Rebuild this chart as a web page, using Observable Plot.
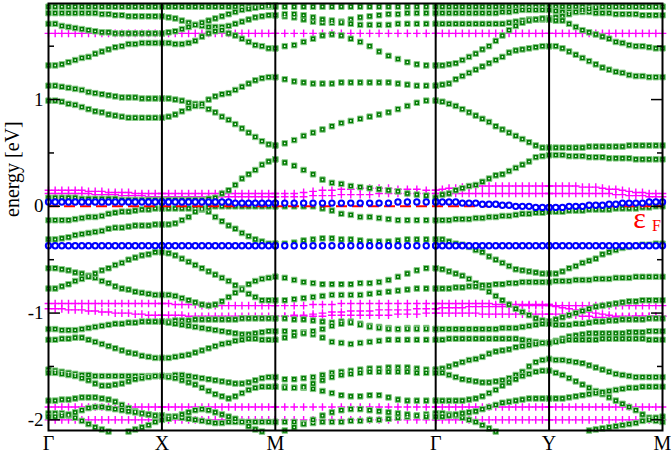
<!DOCTYPE html>
<html><head><meta charset="utf-8">
<script src="https://cdn.jsdelivr.net/npm/d3@7"></script>
<script src="https://cdn.jsdelivr.net/npm/@observablehq/plot@0.6"></script>
<style>html,body{margin:0;padding:0;background:#fff;}svg{display:block;}</style>
</head><body><div id="chart"></div>
<script>
// k-path: high-symmetry labels and their path positions
const kLabels = ["Γ","X","M","Γ","Y","M"];
const kNodes = [0, 1, 2, 3.414, 4.414, 5.414];
const yMajorTicks = [-2, -1, 0, 1];
const yMinorTicks = [-1.5, -0.5, 0.5, 1.5];
const fermiLevel = 0;
const energyDomain = [-2.1, 1.9];

// ---- green (square) bands, 18 k-points per segment, eV ----
const greenGX = [
[1.87,1.87,1.87,1.87,1.87,1.87,1.87,1.87,1.87,1.87,1.87,1.87,1.87,1.87,1.87,1.87,1.87,1.87],
[1.81,1.81,1.81,1.81,1.81,1.81,1.81,1.81,1.80,1.80,1.79,1.79,1.78,1.78,1.78,1.78,1.78,1.78],
[1.71,1.71,1.69,1.68,1.67,1.66,1.65,1.64,1.63,1.63,1.62,1.62,1.62,1.62,1.62,1.62,1.62,1.62],
[1.32,1.32,1.33,1.35,1.37,1.39,1.40,1.43,1.45,1.47,1.49,1.50,1.52,1.52,1.53,1.53,1.53,1.53],
[1.13,1.13,1.12,1.11,1.10,1.09,1.07,1.06,1.05,1.04,1.03,1.02,1.02,1.02,1.01,1.01,1.01,1.01],
[0.99,0.99,0.98,0.96,0.95,0.93,0.91,0.89,0.88,0.86,0.85,0.84,0.83,0.83,0.83,0.83,0.83,0.83],
[0.08,0.08,0.08,0.08,0.08,0.07,0.07,0.07,0.07,0.07,0.07,0.06,0.06,0.06,0.06,0.06,0.06,0.06],
[-0.13,-0.13,-0.13,-0.13,-0.12,-0.11,-0.10,-0.10,-0.09,-0.07,-0.06,-0.05,-0.05,-0.04,-0.03,-0.03,-0.02,-0.02],
[-0.31,-0.31,-0.30,-0.29,-0.27,-0.26,-0.25,-0.24,-0.23,-0.21,-0.20,-0.20,-0.19,-0.18,-0.18,-0.18,-0.17,-0.17],
[-0.58,-0.58,-0.59,-0.60,-0.62,-0.63,-0.65,-0.67,-0.70,-0.72,-0.75,-0.77,-0.78,-0.80,-0.81,-0.82,-0.83,-0.83],
[-0.77,-0.77,-0.75,-0.73,-0.70,-0.68,-0.66,-0.63,-0.60,-0.58,-0.55,-0.53,-0.50,-0.48,-0.46,-0.45,-0.43,-0.43],
[-1.15,-1.15,-1.16,-1.16,-1.16,-1.15,-1.14,-1.13,-1.12,-1.11,-1.10,-1.10,-1.09,-1.09,-1.08,-1.08,-1.08,-1.08],
[-1.25,-1.25,-1.24,-1.24,-1.23,-1.23,-1.25,-1.27,-1.29,-1.31,-1.33,-1.35,-1.37,-1.38,-1.40,-1.41,-1.42,-1.42],
[-1.53,-1.54,-1.55,-1.56,-1.57,-1.58,-1.58,-1.59,-1.59,-1.59,-1.59,-1.59,-1.59,-1.59,-1.59,-1.59,-1.59,-1.59],
[-1.56,-1.56,-1.57,-1.58,-1.59,-1.61,-1.63,-1.66,-1.68,-1.68,-1.67,-1.66,-1.64,-1.62,-1.61,-1.60,-1.59,-1.59],
[-1.82,-1.82,-1.81,-1.81,-1.80,-1.79,-1.79,-1.79,-1.80,-1.81,-1.83,-1.86,-1.89,-1.92,-1.94,-1.95,-1.96,-1.96],
[-1.94,-1.94,-1.94,-1.96,-1.98,-2.01,-2.04,-2.07,-2.09,-2.11,-2.12,-2.12,-2.11,-2.09,-2.07,-2.05,-2.02,-2.00],
[-1.97,-1.97,-1.96,-1.95,-1.93,-1.91,-1.89,-1.88,-1.88,-1.89,-1.90,-1.91,-1.92,-1.93,-1.94,-1.95,-1.96,-1.96]
];
const greenXM = [
[1.87,1.87,1.87,1.87,1.87,1.87,1.87,1.87,1.87,1.87,1.87,1.87,1.87,1.87,1.87,1.87,1.87,1.87],
[1.78,1.77,1.76,1.74,1.72,1.70,1.69,1.68,1.68,1.68,1.69,1.71,1.73,1.75,1.77,1.78,1.79,1.79],
[1.62,1.63,1.64,1.66,1.68,1.70,1.72,1.74,1.76,1.78,1.80,1.82,1.84,1.85,1.86,1.87,1.88,1.88],
[1.53,1.53,1.52,1.52,1.53,1.55,1.59,1.62,1.64,1.65,1.62,1.60,1.57,1.54,1.51,1.50,1.48,1.48],
[1.01,1.01,1.00,0.99,0.97,0.96,0.94,0.91,0.88,0.84,0.81,0.77,0.73,0.69,0.65,0.61,0.58,0.57],
[0.83,0.84,0.86,0.89,0.92,0.94,0.96,1.00,1.03,1.05,1.06,1.09,1.12,1.15,1.18,1.20,1.21,1.21],
[0.06,0.06,0.06,0.06,0.06,0.06,0.06,0.07,0.08,0.12,0.15,0.20,0.26,0.30,0.34,0.39,0.42,0.44],
[-0.02,-0.02,-0.02,-0.02,-0.02,-0.02,-0.03,-0.05,-0.10,-0.14,-0.18,-0.21,-0.25,-0.28,-0.31,-0.33,-0.35,-0.35],
[-0.17,-0.17,-0.16,-0.13,-0.10,-0.05,-0.02,-0.01,0.00,0.00,0.00,0.00,0.00,0.00,0.00,0.00,0.00,0.00],
[-0.83,-0.83,-0.84,-0.86,-0.88,-0.90,-0.92,-0.93,-0.92,-0.89,-0.85,-0.81,-0.77,-0.73,-0.70,-0.68,-0.67,-0.66],
[-0.43,-0.44,-0.46,-0.49,-0.52,-0.55,-0.58,-0.61,-0.64,-0.67,-0.70,-0.74,-0.78,-0.82,-0.85,-0.88,-0.88,-0.88],
[-1.08,-1.08,-1.07,-1.07,-1.07,-1.06,-1.06,-1.06,-1.06,-1.06,-1.06,-1.06,-1.05,-1.05,-1.05,-1.05,-1.05,-1.05],
[-1.08,-1.09,-1.10,-1.11,-1.12,-1.13,-1.14,-1.15,-1.16,-1.17,-1.18,-1.19,-1.20,-1.20,-1.19,-1.18,-1.17,-1.17],
[-1.42,-1.42,-1.41,-1.40,-1.39,-1.37,-1.35,-1.33,-1.31,-1.29,-1.28,-1.26,-1.25,-1.24,-1.24,-1.25,-1.25,-1.25],
[-1.59,-1.59,-1.58,-1.58,-1.59,-1.60,-1.61,-1.62,-1.63,-1.64,-1.65,-1.66,-1.66,-1.65,-1.63,-1.61,-1.60,-1.60],
[-1.59,-1.60,-1.61,-1.63,-1.65,-1.67,-1.70,-1.73,-1.76,-1.78,-1.80,-1.78,-1.75,-1.72,-1.70,-1.69,-1.69,-1.69],
[-1.96,-1.97,-1.97,-1.98,-1.99,-2.00,-2.01,-2.02,-2.03,-2.03,-2.02,-2.02,-2.02,-2.02,-2.02,-2.02,-2.02,-2.02],
[-2.00,-1.99,-1.97,-1.95,-1.93,-1.91,-1.90,-1.91,-1.93,-1.95,-1.97,-1.99,-2.02,-2.06,-2.09,-2.11,-2.12,-2.12]
];
const greenMG = [
[1.87,1.87,1.87,1.87,1.87,1.87,1.87,1.87,1.87,1.87,1.87,1.87,1.87,1.87,1.87,1.87,1.87,1.87],
[1.79,1.78,1.77,1.75,1.73,1.72,1.72,1.73,1.75,1.77,1.78,1.79,1.80,1.80,1.81,1.81,1.81,1.81],
[1.79,1.80,1.80,1.79,1.77,1.75,1.74,1.72,1.71,1.70,1.70,1.70,1.70,1.71,1.71,1.71,1.71,1.71],
[1.48,1.50,1.51,1.54,1.57,1.60,1.61,1.60,1.57,1.54,1.50,1.45,1.41,1.38,1.35,1.33,1.32,1.32],
[1.21,1.19,1.17,1.16,1.15,1.15,1.15,1.16,1.16,1.16,1.16,1.16,1.16,1.15,1.14,1.13,1.13,1.13],
[0.57,0.59,0.62,0.66,0.69,0.72,0.75,0.78,0.80,0.82,0.84,0.86,0.88,0.91,0.94,0.97,0.99,0.99],
[0.44,0.41,0.38,0.34,0.30,0.25,0.22,0.21,0.19,0.18,0.17,0.16,0.15,0.14,0.12,0.11,0.10,0.08],
[0.00,0.00,0.00,0.00,0.00,-0.02,-0.04,-0.07,-0.08,-0.10,-0.10,-0.11,-0.12,-0.13,-0.13,-0.13,-0.13,-0.13],
[-0.35,-0.35,-0.34,-0.32,-0.31,-0.30,-0.30,-0.31,-0.31,-0.32,-0.33,-0.33,-0.33,-0.32,-0.31,-0.31,-0.31,-0.31],
[-0.66,-0.67,-0.69,-0.71,-0.72,-0.73,-0.73,-0.73,-0.73,-0.72,-0.72,-0.71,-0.69,-0.66,-0.63,-0.60,-0.58,-0.58],
[-0.88,-0.88,-0.87,-0.86,-0.85,-0.84,-0.83,-0.83,-0.83,-0.83,-0.82,-0.81,-0.80,-0.79,-0.78,-0.77,-0.77,-0.77],
[-1.05,-1.05,-1.06,-1.06,-1.07,-1.08,-1.09,-1.08,-1.08,-1.10,-1.12,-1.13,-1.14,-1.15,-1.14,-1.14,-1.14,-1.15],
[-1.17,-1.17,-1.18,-1.18,-1.20,-1.23,-1.27,-1.28,-1.29,-1.28,-1.27,-1.26,-1.25,-1.25,-1.25,-1.25,-1.25,-1.25],
[-1.25,-1.23,-1.21,-1.19,-1.17,-1.15,-1.12,-1.10,-1.09,-1.11,-1.13,-1.14,-1.15,-1.15,-1.15,-1.15,-1.15,-1.15],
[-1.60,-1.62,-1.62,-1.61,-1.60,-1.58,-1.56,-1.55,-1.54,-1.53,-1.52,-1.52,-1.51,-1.51,-1.51,-1.52,-1.53,-1.53],
[-1.69,-1.69,-1.70,-1.70,-1.71,-1.73,-1.75,-1.77,-1.78,-1.78,-1.77,-1.77,-1.79,-1.81,-1.82,-1.82,-1.82,-1.82],
[-1.69,-1.70,-1.70,-1.69,-1.66,-1.63,-1.60,-1.58,-1.57,-1.56,-1.55,-1.55,-1.55,-1.55,-1.55,-1.56,-1.56,-1.56],
[-2.02,-2.02,-2.02,-2.03,-2.03,-2.02,-2.02,-2.02,-2.01,-2.01,-2.00,-2.00,-1.99,-1.98,-1.97,-1.96,-1.95,-1.94],
[-2.12,-2.10,-2.07,-2.04,-2.00,-1.96,-1.93,-1.91,-1.90,-1.90,-1.91,-1.92,-1.93,-1.94,-1.95,-1.96,-1.97,-1.97]
];
const greenGY = [
[1.87,1.87,1.87,1.87,1.87,1.87,1.87,1.87,1.87,1.87,1.87,1.87,1.87,1.87,1.87,1.87,1.87,1.87],
[1.81,1.81,1.81,1.81,1.81,1.81,1.81,1.81,1.81,1.81,1.82,1.82,1.83,1.84,1.84,1.84,1.84,1.84],
[1.71,1.71,1.71,1.71,1.71,1.71,1.71,1.71,1.71,1.71,1.71,1.72,1.73,1.74,1.75,1.75,1.75,1.75],
[1.32,1.32,1.33,1.34,1.37,1.40,1.43,1.47,1.50,1.55,1.60,1.65,1.69,1.72,1.74,1.75,1.76,1.76],
[1.13,1.14,1.15,1.19,1.22,1.25,1.28,1.31,1.34,1.37,1.40,1.44,1.46,1.47,1.48,1.49,1.50,1.50],
[0.99,0.98,0.96,0.94,0.91,0.88,0.85,0.82,0.79,0.75,0.72,0.69,0.66,0.63,0.60,0.57,0.55,0.55],
[0.08,0.11,0.12,0.15,0.17,0.19,0.20,0.23,0.26,0.29,0.30,0.33,0.36,0.39,0.42,0.46,0.47,0.48],
[-0.13,-0.13,-0.13,-0.12,-0.12,-0.12,-0.11,-0.11,-0.10,-0.10,-0.09,-0.09,-0.08,-0.07,-0.07,-0.06,-0.06,-0.05],
[-0.31,-0.31,-0.33,-0.35,-0.36,-0.38,-0.41,-0.43,-0.47,-0.50,-0.53,-0.56,-0.59,-0.60,-0.61,-0.62,-0.63,-0.63],
[-0.58,-0.59,-0.61,-0.63,-0.65,-0.68,-0.72,-0.76,-0.80,-0.84,-0.88,-0.92,-0.96,-0.99,-1.02,-1.05,-1.07,-1.08],
[-0.77,-0.77,-0.77,-0.76,-0.76,-0.75,-0.75,-0.74,-0.74,-0.73,-0.73,-0.72,-0.72,-0.71,-0.71,-0.71,-0.71,-0.71],
[-1.15,-1.15,-1.15,-1.15,-1.15,-1.15,-1.15,-1.15,-1.15,-1.15,-1.14,-1.14,-1.14,-1.13,-1.12,-1.11,-1.10,-1.10],
[-1.25,-1.25,-1.24,-1.24,-1.24,-1.24,-1.24,-1.24,-1.24,-1.24,-1.24,-1.24,-1.24,-1.25,-1.26,-1.27,-1.28,-1.28],
[-1.53,-1.52,-1.50,-1.48,-1.46,-1.44,-1.43,-1.41,-1.38,-1.36,-1.35,-1.34,-1.32,-1.31,-1.30,-1.29,-1.28,-1.28],
[-1.56,-1.56,-1.58,-1.60,-1.62,-1.63,-1.64,-1.65,-1.65,-1.64,-1.63,-1.61,-1.58,-1.55,-1.50,-1.46,-1.44,-1.43],
[-1.82,-1.82,-1.82,-1.82,-1.82,-1.81,-1.80,-1.78,-1.75,-1.72,-1.68,-1.65,-1.62,-1.59,-1.57,-1.55,-1.54,-1.54],
[-1.94,-1.94,-1.95,-1.96,-1.98,-2.00,-2.02,-2.05,-2.08,-2.11,-2.14,-2.16,-2.17,-2.18,-2.18,-2.18,-2.18,-2.18],
[-1.97,-1.97,-1.96,-1.95,-1.94,-1.93,-1.92,-1.90,-1.88,-1.86,-1.84,-1.83,-1.82,-1.81,-1.80,-1.80,-1.80,-1.80]
];
const greenYM = [
[1.87,1.87,1.87,1.87,1.87,1.87,1.87,1.87,1.87,1.87,1.87,1.87,1.87,1.87,1.87,1.87,1.87,1.87],
[1.84,1.83,1.82,1.82,1.82,1.82,1.82,1.81,1.81,1.81,1.80,1.80,1.80,1.80,1.79,1.79,1.79,1.79],
[1.76,1.77,1.78,1.80,1.82,1.84,1.85,1.86,1.87,1.87,1.87,1.87,1.87,1.87,1.87,1.87,1.87,1.87],
[1.75,1.74,1.74,1.71,1.68,1.65,1.63,1.61,1.59,1.57,1.54,1.53,1.51,1.50,1.50,1.49,1.48,1.48],
[1.50,1.50,1.48,1.45,1.42,1.39,1.36,1.33,1.30,1.28,1.26,1.25,1.23,1.22,1.22,1.21,1.21,1.21],
[0.55,0.55,0.55,0.55,0.55,0.55,0.56,0.56,0.56,0.56,0.56,0.56,0.57,0.57,0.57,0.57,0.57,0.57],
[0.48,0.48,0.48,0.47,0.47,0.47,0.46,0.46,0.46,0.45,0.45,0.45,0.45,0.44,0.44,0.44,0.44,0.44],
[-0.05,-0.05,-0.05,-0.04,-0.04,-0.04,-0.03,-0.03,-0.03,-0.03,-0.02,-0.02,-0.02,-0.02,-0.01,-0.01,0.00,0.00],
[-0.63,-0.63,-0.61,-0.58,-0.56,-0.53,-0.51,-0.49,-0.45,-0.43,-0.41,-0.39,-0.38,-0.37,-0.36,-0.36,-0.35,-0.35],
[-0.71,-0.70,-0.70,-0.70,-0.69,-0.69,-0.69,-0.68,-0.68,-0.68,-0.67,-0.67,-0.67,-0.66,-0.66,-0.66,-0.66,-0.66],
[-1.08,-1.06,-1.04,-1.02,-1.00,-0.98,-0.96,-0.94,-0.93,-0.92,-0.91,-0.90,-0.89,-0.89,-0.88,-0.88,-0.88,-0.88],
[-1.10,-1.11,-1.11,-1.11,-1.10,-1.10,-1.09,-1.08,-1.08,-1.07,-1.07,-1.06,-1.06,-1.06,-1.06,-1.05,-1.05,-1.05],
[-1.28,-1.26,-1.24,-1.22,-1.21,-1.20,-1.19,-1.19,-1.19,-1.19,-1.19,-1.19,-1.18,-1.18,-1.18,-1.17,-1.17,-1.17],
[-1.28,-1.27,-1.26,-1.25,-1.25,-1.25,-1.25,-1.25,-1.24,-1.24,-1.24,-1.24,-1.24,-1.24,-1.24,-1.25,-1.25,-1.25],
[-1.43,-1.44,-1.44,-1.45,-1.46,-1.47,-1.49,-1.51,-1.53,-1.55,-1.57,-1.58,-1.59,-1.60,-1.60,-1.60,-1.60,-1.60],
[-1.54,-1.56,-1.58,-1.61,-1.64,-1.67,-1.70,-1.73,-1.76,-1.79,-1.82,-1.85,-1.88,-1.91,-1.95,-1.98,-2.01,-2.02],
[-1.80,-1.80,-1.80,-1.79,-1.78,-1.77,-1.76,-1.75,-1.74,-1.73,-1.72,-1.71,-1.70,-1.70,-1.69,-1.69,-1.69,-1.69],
[-2.16,-2.16,-2.16,-2.15,-2.14,-2.12,-2.10,-2.09,-2.08,-2.07,-2.06,-2.05,-2.04,-2.03,-2.01,-2.00,-1.98,-1.97]
];

// ---- magenta (+) bands ----
const magentaGX = [
[1.62,1.62,1.62,1.62,1.62,1.62,1.62,1.62,1.62,1.62,1.62,1.62,1.62,1.62,1.62,1.62,1.62,1.62],
[0.15,0.15,0.15,0.15,0.15,0.15,0.14,0.14,0.14,0.13,0.13,0.13,0.13,0.12,0.12,0.12,0.12,0.12],
[0.12,0.12,0.12,0.12,0.12,0.12,0.12,0.11,0.11,0.11,0.11,0.10,0.10,0.10,0.10,0.09,0.09,0.09],
[-0.91,-0.91,-0.91,-0.91,-0.91,-0.91,-0.91,-0.91,-0.91,-0.91,-0.91,-0.91,-0.91,-0.91,-0.91,-0.91,-0.91,-0.91],
[-0.96,-0.96,-0.96,-0.97,-0.97,-0.97,-0.98,-0.98,-0.99,-0.99,-1.00,-1.00,-1.00,-1.01,-1.01,-1.02,-1.02,-1.02],
[-1.88,-1.88,-1.88,-1.88,-1.88,-1.88,-1.88,-1.88,-1.88,-1.88,-1.88,-1.88,-1.88,-1.88,-1.88,-1.88,-1.88,-1.88],
[-2.00,-2.00,-2.00,-2.00,-2.00,-2.00,-2.00,-2.00,-2.00,-2.00,-2.00,-2.00,-2.00,-2.00,-2.00,-2.00,-2.00,-2.00]
];
const magentaXM = [
[1.62,1.62,1.62,1.62,1.62,1.62,1.62,1.62,1.62,1.62,1.62,1.62,1.62,1.62,1.62,1.62,1.62,1.62],
[0.12,0.12,0.12,0.12,0.12,0.12,0.12,0.12,0.12,0.12,0.12,0.12,0.12,0.12,0.12,0.12,0.12,0.12],
[0.09,0.09,0.09,0.09,0.09,0.09,0.09,0.09,0.09,0.09,0.09,0.09,0.09,0.09,0.09,0.09,0.09,0.09],
[-0.91,-0.91,-0.92,-0.92,-0.92,-0.92,-0.93,-0.93,-0.93,-0.93,-0.93,-0.93,-0.93,-0.93,-0.93,-0.93,-0.93,-0.93],
[-1.02,-1.02,-1.02,-1.02,-1.03,-1.03,-1.03,-1.03,-1.03,-1.03,-1.03,-1.03,-1.03,-1.03,-1.03,-1.03,-1.03,-1.03],
[-1.88,-1.88,-1.88,-1.88,-1.88,-1.88,-1.88,-1.88,-1.88,-1.88,-1.88,-1.88,-1.88,-1.88,-1.88,-1.88,-1.88,-1.88],
[-2.00,-2.00,-2.00,-2.00,-2.00,-2.00,-2.00,-2.00,-2.00,-2.00,-2.00,-2.00,-2.00,-2.00,-2.00,-2.00,-2.00,-2.00]
];
const magentaMG = [
[1.62,1.62,1.62,1.62,1.62,1.62,1.62,1.62,1.62,1.62,1.62,1.62,1.62,1.62,1.62,1.62,1.62,1.62],
[0.12,0.12,0.12,0.13,0.14,0.15,0.15,0.16,0.16,0.17,0.17,0.17,0.17,0.16,0.16,0.16,0.15,0.15],
[0.09,0.09,0.09,0.09,0.10,0.10,0.10,0.11,0.11,0.11,0.11,0.12,0.12,0.12,0.12,0.12,0.12,0.12],
[-0.93,-0.93,-0.93,-0.93,-0.92,-0.92,-0.92,-0.91,-0.91,-0.91,-0.91,-0.91,-0.91,-0.91,-0.91,-0.91,-0.91,-0.91],
[-1.03,-1.03,-1.02,-1.02,-1.01,-1.00,-0.99,-0.99,-0.98,-0.98,-0.98,-0.97,-0.97,-0.97,-0.97,-0.96,-0.96,-0.96],
[-1.03,-1.03,-1.03,-1.03,-1.03,-1.03,-1.02,-1.02,-1.02,-1.02,-1.02,-1.02,-1.02,-1.01,-1.01,-1.01,-1.00,-1.00],
[-1.88,-1.88,-1.88,-1.88,-1.88,-1.88,-1.88,-1.88,-1.88,-1.88,-1.88,-1.88,-1.88,-1.88,-1.88,-1.88,-1.88,-1.88],
[-2.00,-2.00,-2.00,-2.00,-2.00,-2.00,-2.00,-2.00,-2.00,-2.00,-2.00,-2.00,-2.00,-2.00,-2.00,-2.00,-2.00,-2.00]
];
const magentaGY = [
[1.62,1.62,1.62,1.62,1.62,1.62,1.62,1.62,1.62,1.62,1.62,1.62,1.62,1.62,1.62,1.62,1.62,1.62],
[0.15,0.16,0.17,0.17,0.18,0.18,0.19,0.19,0.19,0.19,0.19,0.19,0.19,0.19,0.19,0.19,0.19,0.19],
[0.12,0.12,0.12,0.12,0.12,0.12,0.12,0.12,0.12,0.12,0.12,0.12,0.12,0.12,0.12,0.12,0.12,0.12],
[-0.91,-0.91,-0.91,-0.91,-0.91,-0.91,-0.91,-0.91,-0.91,-0.92,-0.92,-0.92,-0.92,-0.92,-0.92,-0.92,-0.92,-0.92],
[-0.96,-0.95,-0.95,-0.95,-0.95,-0.94,-0.94,-0.94,-0.94,-0.94,-0.94,-0.94,-0.94,-0.93,-0.93,-0.93,-0.93,-0.93],
[-1.00,-1.00,-1.00,-1.00,-1.00,-1.00,-1.00,-1.01,-1.01,-1.01,-1.01,-1.01,-1.01,-1.01,-1.01,-1.01,-1.01,-1.01],
[-1.88,-1.88,-1.88,-1.88,-1.88,-1.88,-1.88,-1.88,-1.88,-1.88,-1.88,-1.88,-1.88,-1.88,-1.88,-1.88,-1.88,-1.88],
[-2.00,-2.00,-2.00,-2.00,-2.00,-2.00,-2.00,-2.00,-2.00,-2.00,-2.00,-2.00,-2.00,-2.00,-2.00,-2.00,-2.00,-2.00]
];
const magentaYM = [
[1.62,1.62,1.62,1.62,1.62,1.62,1.62,1.62,1.62,1.62,1.62,1.62,1.62,1.62,1.62,1.62,1.62,1.62],
[0.19,0.19,0.19,0.19,0.19,0.18,0.18,0.18,0.17,0.16,0.16,0.15,0.14,0.13,0.13,0.12,0.12,0.12],
[0.12,0.12,0.12,0.12,0.12,0.12,0.12,0.12,0.12,0.12,0.11,0.11,0.10,0.10,0.10,0.09,0.09,0.09],
[-0.92,-0.93,-0.93,-0.93,-0.93,-0.93,-0.93,-0.93,-0.93,-0.93,-0.93,-0.93,-0.93,-0.93,-0.93,-0.93,-0.93,-0.93],
[-0.93,-0.94,-0.95,-0.96,-0.97,-0.98,-0.99,-1.00,-1.01,-1.02,-1.03,-1.03,-1.03,-1.03,-1.03,-1.03,-1.03,-1.03],
[-1.01,-1.01,-1.01,-1.02,-1.02,-1.03,-1.03,-1.04,-1.04,-1.04,-1.04,-1.04,-1.04,-1.03,-1.03,-1.03,-1.03,-1.03],
[-1.88,-1.88,-1.88,-1.88,-1.88,-1.88,-1.88,-1.88,-1.88,-1.88,-1.88,-1.88,-1.88,-1.88,-1.88,-1.88,-1.88,-1.88],
[-2.00,-2.00,-2.00,-2.00,-2.00,-2.00,-2.00,-2.00,-2.00,-2.00,-2.00,-2.00,-2.00,-2.00,-2.00,-2.00,-2.00,-2.00]
];

// ---- blue (circle) bands ----
const blueGX = [
[0.04,0.04,0.04,0.04,0.04,0.04,0.04,0.04,0.04,0.04,0.04,0.04,0.04,0.04,0.04,0.04,0.04,0.04],
[-0.37,-0.37,-0.37,-0.37,-0.37,-0.37,-0.37,-0.37,-0.37,-0.37,-0.37,-0.37,-0.37,-0.37,-0.37,-0.37,-0.37,-0.37]
];
const blueXM = [
[0.04,0.04,0.04,0.04,0.04,0.04,0.04,0.04,0.04,0.04,0.04,0.03,0.03,0.03,0.03,0.03,0.03,0.03],
[-0.37,-0.37,-0.37,-0.37,-0.37,-0.37,-0.37,-0.37,-0.37,-0.37,-0.37,-0.37,-0.37,-0.37,-0.37,-0.37,-0.37,-0.37]
];
const blueMG = [
[0.03,0.03,0.03,0.03,0.03,0.03,0.03,0.03,0.03,0.03,0.03,0.03,0.03,0.04,0.04,0.04,0.04,0.04],
[-0.37,-0.37,-0.37,-0.37,-0.37,-0.37,-0.37,-0.37,-0.37,-0.37,-0.37,-0.37,-0.37,-0.37,-0.37,-0.37,-0.37,-0.37]
];
const blueGY = [
[0.04,0.04,0.04,0.04,0.03,0.03,0.03,0.02,0.02,0.02,0.01,0.01,0.00,0.00,0.00,-0.01,-0.01,-0.01],
[-0.37,-0.37,-0.37,-0.37,-0.37,-0.37,-0.37,-0.37,-0.37,-0.37,-0.37,-0.37,-0.37,-0.37,-0.37,-0.37,-0.37,-0.37]
];
const blueYM = [
[-0.01,-0.01,-0.01,0.00,0.00,0.00,0.01,0.01,0.01,0.02,0.02,0.03,0.03,0.03,0.03,0.04,0.04,0.04],
[-0.37,-0.37,-0.37,-0.37,-0.37,-0.37,-0.37,-0.37,-0.37,-0.37,-0.37,-0.37,-0.37,-0.37,-0.37,-0.37,-0.37,-0.37]
];

// place each band value on the k-path grid of its segment
function toPoints(segments) {
  const pts = [];
  segments.forEach((bands, s) => {
    const k0 = kNodes[s], k1 = kNodes[s + 1];
    bands.forEach(band => band.forEach((e, j) => {
      if (e >= energyDomain[0] - 0.012 && e <= energyDomain[1] + 0.01)
        pts.push({k: k0 + (k1 - k0) * j / (band.length - 1), e});
    }));
  });
  return pts;
}
const greenPts = toPoints([greenGX, greenXM, greenMG, greenGY, greenYM]);
const magentaPts = toPoints([magentaGX, magentaXM, magentaMG, magentaGY, magentaYM]);
const bluePts = toPoints([blueGX, blueXM, blueMG, blueGY, blueYM]);

const serif = "'Liberation Serif', 'DejaVu Serif', serif";
const chart = Plot.plot({
  width: 671, height: 453,
  marginLeft: 48, marginRight: 9, marginTop: 3, marginBottom: 23,
  x: {domain: [kNodes[0], kNodes[kNodes.length - 1]]},
  y: {domain: energyDomain},
  style: {fontFamily: serif, background: "white", color: "black"},
  marks: [
    Plot.dot(magentaPts, {x: "k", y: "e", symbol: "plus", r: 2.6, stroke: "#ff00ff", strokeWidth: 1.4}),
    Plot.dot(greenPts, {x: "k", y: "e", symbol: "square", r: 3.1, fill: "#007a00", stroke: "#86c986", strokeWidth: 1}),
    Plot.dot(greenPts, {x: "k", y: "e", r: 0.85, fill: "#ffffff"}),
    Plot.ruleY([fermiLevel], {stroke: "#ff0000", strokeWidth: 2, strokeDasharray: "11,5"}),
    Plot.dot(bluePts, {x: "k", y: "e", r: 2.7, fill: "#ffffff", stroke: "#0000ff", strokeWidth: 2}),
    Plot.ruleX(kNodes.slice(1, -1), {stroke: "black", strokeWidth: 2}),
    Plot.frame({stroke: "black", strokeWidth: 2}),
    Plot.axisY(yMajorTicks, {anchor: "left", tickSize: -12, strokeWidth: 1.5, fill: "none"}),
    Plot.axisY(yMinorTicks, {anchor: "left", tickSize: -6, strokeWidth: 1.5, fill: "none"}),
    Plot.axisY(yMajorTicks, {anchor: "right", tickSize: -12, strokeWidth: 1.5, fill: "none"}),
    Plot.axisY(yMinorTicks, {anchor: "right", tickSize: -6, strokeWidth: 1.5, fill: "none"}),
    Plot.axisY(yMajorTicks, {anchor: "left", tickSize: 0, tickPadding: 5, fontSize: 19, label: null, tickFormat: d => String(d)}),
    Plot.axisX(kNodes, {anchor: "bottom", tickSize: 0, tickPadding: 5, fontSize: 20, label: null,
      tickFormat: d => kLabels[kNodes.indexOf(d)]}),
    Plot.text(["energy [eV]"], {frameAnchor: "left", rotate: -90, dx: -36, fontSize: 20}),
    Plot.text([{k: kNodes[kNodes.length - 1], e: fermiLevel}], {x: "k", y: "e", text: () => "ε", dx: -23, dy: 12, fontSize: 30, fill: "#ff0000"}),
    Plot.text([{k: kNodes[kNodes.length - 1], e: fermiLevel}], {x: "k", y: "e", text: () => "F", dx: -6, dy: 20, fontSize: 16, fill: "#ff0000"})
  ]
});
document.getElementById("chart").appendChild(chart);
</script>
</body></html>
